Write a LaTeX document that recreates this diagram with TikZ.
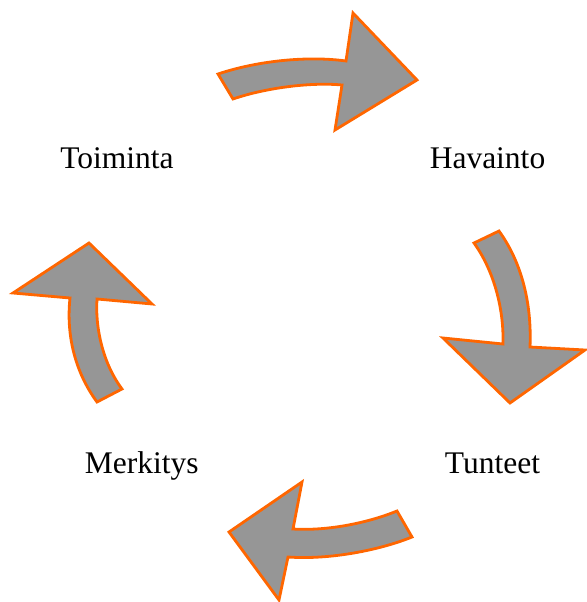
\documentclass[tikz,border=0pt]{standalone}
\usepackage{fontspec}
\setmainfont{Liberation Serif}
\definecolor{arrowfill}{RGB}{150,150,150}
\definecolor{arrowline}{RGB}{255,102,0}
\begin{document}
\begin{tikzpicture}[x=1pt, y=-1pt,
    cyclearrow/.style={fill=arrowfill, draw=arrowline, line width=2.8pt},
    phase/.style={anchor=base, font=\fontsize{31.5}{38}\selectfont}]
				\useasboundingbox (0,0) rectangle (586,602);
				% the four steps of the cycle
				\node[phase] (toiminta) at (117,168) {Toiminta};
				\node[phase] (havainto) at (487.5,168) {Havainto};
				\node[phase] (tunteet) at (492.5,473) {Tunteet};
				\node[phase] (merkitys) at (141.7,473) {Merkitys};
				% top arrow, pointing right
				\draw [cyclearrow] (218,74) .. controls (260,60) and (310,56) .. (346,61) -- (353,13) -- (417,80) -- (335,130) -- (342,85) .. controls (310,82) and (265,88) .. (233,99) -- cycle;
				% right arrow, pointing down
				\draw [cyclearrow] (474,243) -- (499,231) .. controls (520,260) and (532,300) .. (530,347) -- (585,350) -- (510,403) -- (443,338) -- (503,344) .. controls (504,305) and (492,268) .. (474,243) -- cycle;
				% bottom arrow, pointing left
				\draw [cyclearrow] (397,511) -- (412,537) .. controls (380,550) and (330,560) .. (288,557) -- (279,600) -- (229,532) -- (302,482) -- (293,529) .. controls (325,531) and (365,524) .. (397,511) -- cycle;
				% left arrow, pointing up
				\draw [cyclearrow] (122,389) -- (97,402) .. controls (75,372) and (66,335) .. (70,298) -- (13,293) -- (89,243) -- (152,304) -- (97,299) .. controls (95,330) and (104,365) .. (122,389) -- cycle;
				\end{tikzpicture}
\end{document}
